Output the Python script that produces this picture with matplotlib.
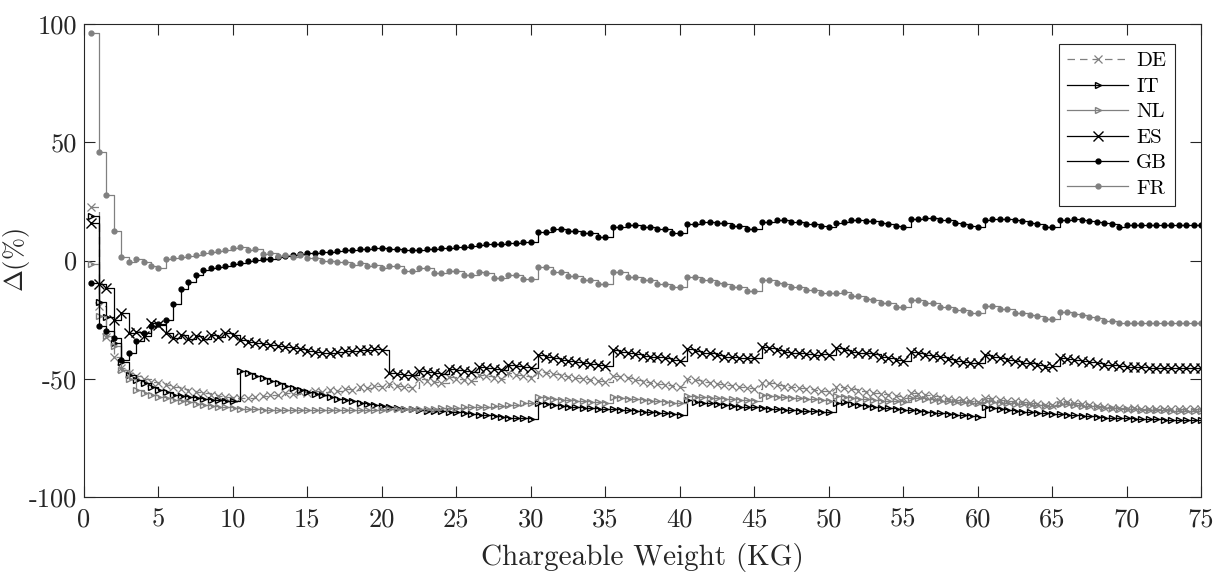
import numpy as np
import matplotlib
matplotlib.use("Agg")
import matplotlib.pyplot as plt

plt.rcParams['font.family'] = ['cmr10', 'DejaVu Serif']
plt.rcParams['mathtext.fontset'] = 'cm'
plt.rcParams['axes.unicode_minus'] = False

weights = np.arange(1, 151) * 0.5  # chargeable weight grid (kg)

DE = [22.5, -19.3, -32.5, -40.7, -45.6, -47.7, -48.8, -50.2, -51.2, -51.9,
      -52.8, -53.6, -54.5, -55.0, -55.6, -56.2, -56.9, -57.3, -57.6, -58.0,
      -58.3, -58.0, -57.6, -57.3, -56.8, -57.0, -56.0, -56.4, -55.6, -56.0,
      -55.0, -55.4, -54.6, -55.0, -54.2, -54.6, -53.6, -54.0, -53.0, -53.4,
      -52.4, -53.0, -53.4, -53.8, -50.2, -50.8, -51.4, -51.9, -49.2, -49.9,
      -50.5, -51.0, -48.4, -49.0, -49.6, -50.2, -47.7, -48.4, -49.0, -49.6,
      -47.0, -47.4, -48.0, -48.8, -49.4, -49.8, -50.3, -50.5, -50.8, -51.2,
      -48.8, -49.4, -49.8, -50.5, -51.2, -51.6, -52.2, -52.6, -53.0, -53.4,
      -50.3, -50.5, -51.2, -51.9, -52.2, -52.6, -53.0, -53.4, -54.1, -54.5,
      -51.6, -51.9, -52.6, -53.4, -53.6, -54.1, -54.5, -54.8, -55.1, -55.5,
      -53.5, -54.0, -54.5, -55.0, -55.5, -56.0, -56.5, -57.0, -57.5, -58.0,
      -56.0, -56.5, -57.0, -57.5, -58.0, -58.4, -58.8, -59.1, -59.4, -59.7,
      -58.0, -58.4, -58.8, -59.2, -59.6, -60.0, -60.4, -60.7, -61.0, -61.3,
      -59.5, -59.9, -60.3, -60.7, -61.1, -61.5, -61.9, -62.2, -62.5, -62.8,
      -62.5, -62.6, -62.7, -62.8, -62.9, -63.0, -63.0, -63.0, -63.0, -63.0]

IT = [18.8, -17.5, -24.0, -35.0, -42.8, -48.5, -50.5, -52.0, -53.5, -54.8,
      -55.8, -56.7, -57.3, -57.8, -58.2, -58.5, -58.8, -59.0, -59.2, -59.5,
      -46.6, -47.6, -48.7, -49.8, -51.0, -52.0, -53.0, -54.0, -54.8, -55.6,
      -56.3, -57.0, -57.7, -58.4, -59.0, -59.6, -60.2, -60.8, -61.3, -61.7,
      -62.1, -62.5, -62.8, -63.0, -63.2, -63.5, -63.6, -63.8, -63.9, -64.1,
      -64.6, -64.9, -65.3, -65.3, -65.8, -66.1, -66.4, -66.5, -66.8, -67.0,
      -60.4, -60.8, -61.1, -61.5, -61.8, -62.1, -62.3, -62.5, -62.7, -62.9,
      -63.0, -63.2, -63.4, -63.5, -63.9, -64.2, -64.4, -64.6, -64.9, -65.3,
      -59.0, -59.7, -60.1, -60.4, -60.7, -61.1, -61.5, -61.8, -62.1, -62.1,
      -62.5, -62.9, -62.9, -63.2, -63.2, -63.5, -63.5, -63.8, -63.9, -64.2,
      -60.2, -60.0, -60.6, -61.0, -61.4, -61.8, -62.2, -62.5, -62.8, -63.1,
      -63.4, -63.7, -64.0, -64.3, -64.6, -64.9, -65.2, -65.5, -65.8, -66.1,
      -62.1, -62.5, -62.9, -63.2, -63.5, -63.9, -64.2, -64.4, -64.4, -65.0,
      -65.0, -65.3, -65.3, -65.8, -65.8, -66.1, -66.4, -66.5, -66.8, -66.8,
      -66.9, -67.1, -67.1, -67.1, -67.4, -67.4, -67.4, -67.4, -67.4, -67.4]

NL = [-1.5, -23.5, -32.0, -36.1, -46.3, -50.2, -54.7, -56.2, -56.9, -57.6,
      -58.3, -58.8, -59.5, -60.0, -60.5, -61.0, -61.4, -61.8, -62.1, -62.4,
      -62.6, -62.8, -63.0, -63.1, -63.2, -63.2, -63.2, -63.2, -63.2, -63.2,
      -63.2, -63.2, -63.2, -63.2, -63.2, -63.2, -63.2, -63.2, -63.2, -63.2,
      -63.0, -63.0, -63.0, -62.8, -62.8, -62.8, -62.8, -62.5, -62.5, -62.5,
      -62.1, -62.1, -61.8, -61.8, -61.5, -61.5, -61.1, -61.1, -60.4, -60.4,
      -57.9, -58.3, -58.7, -59.0, -59.0, -59.3, -59.3, -59.7, -59.7, -60.1,
      -57.9, -58.3, -58.7, -58.7, -59.0, -59.3, -59.3, -59.7, -60.1, -60.1,
      -57.3, -57.6, -57.9, -58.3, -58.3, -58.7, -58.7, -59.0, -59.0, -59.3,
      -56.9, -57.3, -57.6, -57.9, -58.3, -58.3, -58.7, -58.7, -59.0, -59.3,
      -57.5, -57.8, -58.1, -58.4, -58.7, -59.0, -59.2, -59.4, -59.6, -59.8,
      -58.0, -58.3, -58.6, -58.9, -59.2, -59.5, -59.8, -60.0, -60.2, -60.4,
      -59.5, -59.8, -60.1, -60.4, -60.6, -60.8, -61.0, -61.2, -61.4, -61.6,
      -60.5, -60.8, -61.1, -61.4, -61.7, -62.0, -62.2, -62.4, -62.6, -62.8,
      -63.0, -63.1, -63.2, -63.3, -63.4, -63.5, -63.5, -63.5, -63.5, -63.5]

ES = [15.7, -9.9, -11.8, -25.1, -22.0, -30.8, -30.1, -31.9, -26.3, -27.3,
      -30.5, -32.9, -31.5, -33.3, -31.9, -33.3, -31.5, -32.5, -30.8, -31.5,
      -33.5, -34.5, -35.0, -35.5, -35.8, -36.0, -36.4, -37.0, -37.6, -38.2,
      -38.6, -39.0, -39.3, -38.6, -38.4, -38.2, -38.0, -37.8, -37.6, -37.8,
      -47.4, -48.0, -48.4, -48.6, -46.6, -47.0, -47.4, -47.8, -46.0, -46.3,
      -46.8, -47.2, -45.1, -45.5, -45.9, -46.3, -44.2, -44.7, -45.1, -45.5,
      -40.0, -40.7, -41.4, -42.0, -42.5, -43.0, -43.3, -43.7, -44.0, -44.4,
      -37.8, -38.5, -39.0, -39.5, -40.4, -41.0, -40.8, -41.4, -42.1, -42.5,
      -37.6, -38.3, -39.0, -39.3, -40.0, -40.7, -40.7, -41.4, -41.4, -41.4,
      -36.4, -37.1, -37.8, -38.6, -39.0, -39.3, -39.5, -40.0, -39.5, -39.8,
      -37.1, -37.8, -38.6, -39.0, -39.3, -39.5, -40.7, -41.4, -42.1, -42.4,
      -38.6, -39.3, -40.0, -40.4, -40.9, -41.8, -42.4, -42.8, -43.2, -43.5,
      -40.0, -40.7, -41.4, -42.0, -42.5, -43.2, -43.5, -44.2, -44.9, -44.6,
      -41.4, -41.8, -42.1, -42.4, -42.8, -43.5, -44.2, -44.2, -44.6, -44.9,
      -45.2, -45.2, -45.4, -45.5, -45.5, -45.5, -45.5, -45.5, -45.5, -45.5]

GB = [-9.6, -27.7, -29.8, -32.9, -42.1, -39.2, -33.9, -30.8, -27.8, -26.8,
      -25.2, -18.5, -12.2, -9.0, -6.1, -4.0, -3.3, -2.9, -2.3, -1.5,
      -0.9, -0.4, 0.2, 0.5, 0.5, 1.3, 1.9, 2.3, 2.7, 3.0,
      3.3, 3.6, 3.8, 4.1, 4.4, 4.4, 4.7, 5.0, 5.1, 5.3,
      5.0, 4.7, 4.4, 4.4, 4.4, 4.7, 4.9, 5.1, 5.3, 5.6,
      5.8, 6.1, 6.5, 6.8, 7.0, 7.0, 7.5, 7.5, 8.0, 8.0,
      12.2, 12.2, 13.2, 13.2, 12.6, 12.6, 11.5, 11.5, 10.1, 10.1,
      14.0, 14.0, 15.0, 15.0, 14.3, 14.3, 13.2, 13.2, 11.8, 11.8,
      15.4, 15.4, 16.3, 16.3, 15.7, 15.7, 14.6, 14.6, 13.3, 13.3,
      16.4, 16.4, 17.1, 17.1, 16.4, 16.4, 15.4, 15.4, 14.6, 14.3,
      16.0, 16.1, 17.1, 17.1, 16.8, 16.7, 15.7, 15.4, 14.6, 14.3,
      17.4, 17.4, 17.8, 17.8, 17.1, 17.1, 15.7, 15.4, 14.6, 14.3,
      17.1, 17.4, 17.5, 17.4, 17.1, 16.8, 15.7, 15.4, 14.3, 14.0,
      17.1, 17.1, 17.4, 17.1, 16.8, 16.4, 15.7, 15.4, 14.3, 15.0,
      15.0, 15.0, 15.0, 15.0, 15.0, 15.0, 15.0, 15.0, 15.0, 15.0]

FR = [96.3, 45.7, 27.7, 12.5, 1.6, -0.8, 0.5, -0.8, -2.2, -3.0,
      0.5, 0.9, 1.6, 2.0, 2.3, 3.0, 3.5, 4.1, 4.4, 5.2,
      5.8, 4.4, 4.9, 2.8, 3.3, 2.1, 2.3, 1.6, 2.2, 1.0,
      0.9, -0.3, -0.3, -0.8, -0.5, -2.0, -1.2, -2.5, -1.9, -3.2,
      -2.2, -2.5, -4.3, -4.3, -3.2, -3.2, -5.1, -5.1, -4.3, -4.3,
      -6.3, -6.3, -5.0, -5.2, -7.3, -7.3, -6.3, -6.3, -8.0, -8.0,
      -2.9, -2.9, -4.9, -4.9, -6.6, -6.6, -8.3, -8.3, -10.0, -10.0,
      -5.0, -5.0, -6.8, -6.8, -8.3, -8.3, -10.0, -10.0, -11.4, -11.4,
      -6.8, -6.8, -8.3, -8.3, -9.6, -10.0, -11.4, -11.4, -12.8, -12.8,
      -8.3, -8.3, -9.6, -10.0, -11.1, -11.1, -12.5, -12.5, -13.9, -13.9,
      -13.6, -13.4, -15.0, -15.0, -16.4, -16.7, -18.1, -18.1, -19.5, -19.8,
      -16.7, -16.7, -18.1, -18.1, -19.5, -19.5, -20.9, -20.9, -22.3, -22.3,
      -19.2, -19.2, -20.6, -20.6, -22.0, -22.0, -23.0, -23.5, -24.6, -24.9,
      -21.6, -21.9, -22.6, -23.0, -24.0, -24.4, -25.6, -25.6, -26.6, -26.6,
      -26.6, -26.6, -26.6, -26.6, -26.6, -26.6, -26.6, -26.6, -26.6, -26.6]

labels = ['DE', 'IT', 'NL', 'ES', 'GB', 'FR']
series = [DE, IT, NL, ES, GB, FR]
gray = '#808080'
styles = [
    dict(color=gray, ls=(0, (6, 4)), marker='x', ms=6, mew=0.9),
    dict(color='black', ls='-', marker='>', ms=5, mfc='none', mew=1.0),
    dict(color=gray, ls='-', marker='>', ms=5, mfc='none', mew=1.0),
    dict(color='black', ls='-', marker='x', ms=7, mew=1.0),
    dict(color='black', ls='-', marker='.', ms=7),
    dict(color=gray, ls='-', marker='.', ms=7),
]

fig = plt.figure(figsize=(12.13, 5.74), dpi=100)
ax = fig.add_axes([84/1213, 1-497/574, (1201-84)/1213, (497-24)/574])

for lab, vals, st in zip(labels, series, styles):
    ax.plot(weights, vals, drawstyle='steps-post', lw=0.9, label=lab, **st)

ax.set_xlim(0, 75)
ax.set_ylim(-100, 100)
ax.set_xticks(np.arange(0, 76, 5))
ax.set_yticks([-100, -50, 0, 50, 100])
ax.set_yticklabels(['-100', '-50', '0', '50', '100'])
ax.tick_params(axis='x', pad=8)
ax.tick_params(axis='y', pad=5)
ax.tick_params(direction='in', top=True, right=True, length=8, width=0.8,
               labelsize=19, colors='#262626')
for sp in ax.spines.values():
    sp.set_linewidth(0.8)
    sp.set_color('#262626')
ax.set_xlabel('Chargeable Weight (KG)', fontsize=21, color='#262626', labelpad=8)
ax.set_ylabel(r'$\Delta$(%)', fontsize=19, color='#262626')
ax.yaxis.set_label_coords(-0.047, 0.5)

leg = ax.legend(loc='upper right', bbox_to_anchor=((1175-84)/1117, (497-44)/473),
                borderaxespad=0, fontsize=15, handlelength=2.9, labelspacing=0.33,
                fancybox=False, framealpha=1, edgecolor='#262626', borderpad=0.38,
                handletextpad=0.4)
leg.get_frame().set_linewidth(0.8)

fig.savefig('out.png', dpi=100)
